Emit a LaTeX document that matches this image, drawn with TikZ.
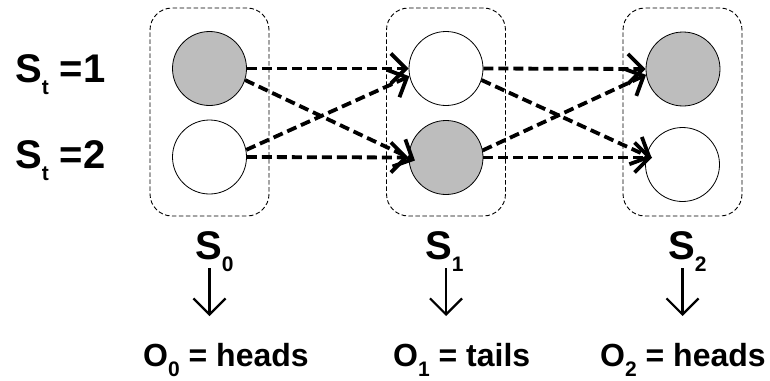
\documentclass[tikz,border=0pt]{standalone}
\usepackage{fontspec}
\setmainfont{Liberation Sans}
\usetikzlibrary{arrows.meta}
\newcommand{\mysub}[1]{\raisebox{-12pt}{\fontsize{21}{21}\selectfont #1}}
\newcommand{\osub}[1]{\raisebox{-10pt}{\fontsize{21}{21}\selectfont #1}}
\begin{document}
\begin{tikzpicture}[x=1pt,y=-1pt,
  state/.style={circle,draw,line width=0.8pt,minimum size=74pt,inner sep=0pt},
  onstate/.style={state,fill=black!26},
  offstate/.style={state,fill=white},
  grp/.style={draw=black,line width=0.9pt,dash pattern=on 4.5pt off 2.5pt,rounded corners=22pt,minimum width=119pt,minimum height=208pt,inner sep=0pt},
  bigtxt/.style={font=\bfseries\fontsize{40}{42}\selectfont,inner sep=0pt,anchor=base west},
  obstxt/.style={font=\bfseries\fontsize{32}{34}\selectfont,inner sep=0pt,anchor=base west},
  trans/.style={line width=3.8pt,dash pattern=on 10pt off 5pt,-{Straight Barb[length=15pt,width=30pt,line width=3.8pt]}},
  emit/.style={line width=2.2pt,-{Straight Barb[length=16pt,width=32pt,line width=2.2pt]}}
]
\useasboundingbox (0,0) rectangle (770,380);

% group boxes
\node[grp] (b0) at (209.5,112) {};
\node[grp] (b1) at (446,112) {};
\node[grp] (b2) at (682.5,112) {};

% states
\node[onstate]  (c0a) at (209.5,68.5) {};
\node[offstate] (c0b) at (209.5,157) {};
\node[offstate] (c1a) at (446,68.5) {};
\node[onstate]  (c1b) at (446,157.5) {};
\node[onstate]  (c2a) at (683,69) {};
\node[offstate] (c2b) at (682.5,164.5) {};

% row labels
\node[bigtxt] (lt1) at (15,82) {S\mysub{t} =1};
\node[bigtxt] (lt2) at (15,168) {S\mysub{t} =2};

% transitions
\draw[trans] (c0a.east) -- (c1a.west);
\draw[trans,shorten >=-7pt] (c0a.-18) -- (c1b.west);
\draw[trans] (c0b.11) -- (c1a.192);
\draw[trans] (c0b.east) -- (c1b.west);
\draw[trans] (c1a.east) -- (c2a.west);
\draw[trans,shorten >=-6pt] (c1a.-18) -- (c2b.166);
\draw[trans] (c1b.11) -- (c2a.189);
\draw[trans,shorten >=-6pt] (c1b.east) -- (c1b.east -| c2b.166);

% time-slice labels
\node[bigtxt] (s0) at (195,259) {S\mysub{0}};
\node[bigtxt] (s1) at (425,259) {S\mysub{1}};
\node[bigtxt] (s2) at (668,259) {S\mysub{2}};

% observations
\node[obstxt] (o0) at (143,366) {O\osub{0} = heads};
\node[obstxt] (o1) at (393,366) {O\osub{1} = tails};
\node[obstxt] (o2) at (600,366) {O\osub{2} = heads};

% emission arrows
\coordinate (e0s) at (209.5,268); \coordinate (e0e) at (209.5,316);
\coordinate (e1s) at (446,268);   \coordinate (e1e) at (446,316);
\coordinate (e2s) at (682.5,268); \coordinate (e2e) at (682.5,316);
\draw[emit] (e0s) -- (e0e);
\draw[emit] (e1s) -- (e1e);
\draw[emit] (e2s) -- (e2e);
\end{tikzpicture}
\end{document}
